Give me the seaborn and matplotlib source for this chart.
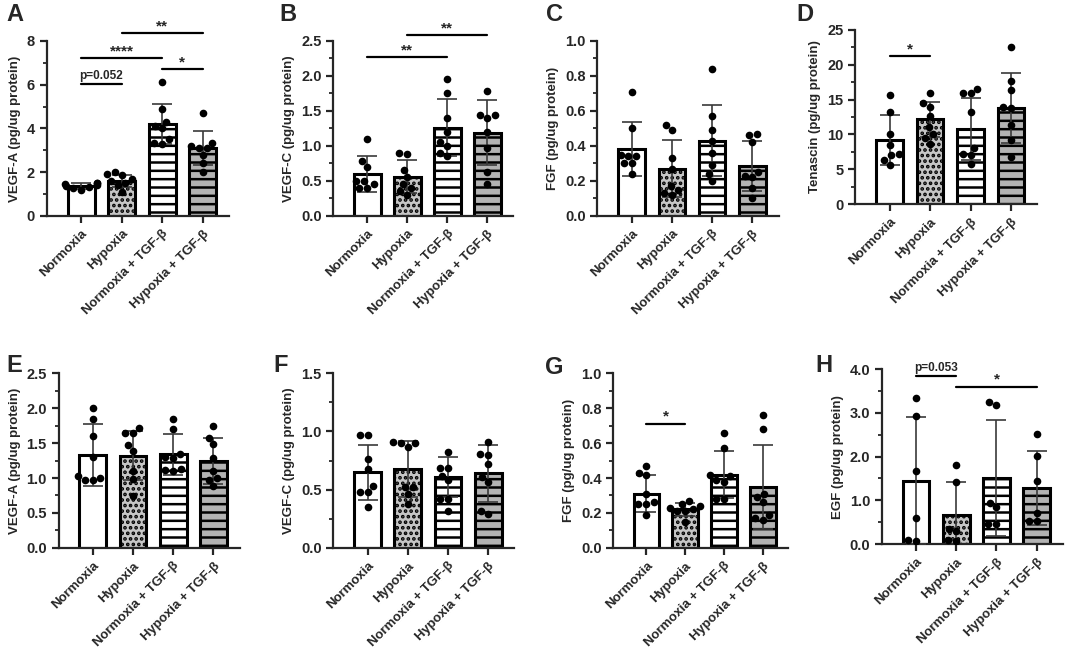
# import libraries
import pandas as pd
import matplotlib
matplotlib.use("Agg")
import matplotlib.pyplot as plt
from matplotlib.ticker import MultipleLocator, FormatStrFormatter
import seaborn as sns


# groups
groups = ["Normoxia", "Hypoxia", "Normoxia + TGF-β", "Hypoxia + TGF-β"]


# panel A - VEGF-A
a_mean = [1.35, 1.60, 4.20, 3.10]
a_sd = [0.13, 0.26, 0.92, 0.76]
a_points = [
    [1.50, 1.45, 1.40, 1.35, 1.30, 1.25, 1.20, 1.48],
    [2.00, 1.90, 1.85, 1.70, 1.60, 1.50, 1.40, 1.10],
    [6.10, 4.90, 4.30, 4.10, 4.00, 3.50, 3.35, 3.30],
    [4.70, 3.35, 3.20, 3.10, 3.10, 2.80, 2.40, 2.00],
]
a_sig = [(0, 1, 6.02, "p=0.052"), (0, 2, 7.2, "****"), (2, 3, 6.7, "*"), (1, 3, 8.35, "**")]

# panel B - VEGF-C
b_mean = [0.60, 0.56, 1.26, 1.19]
b_sd = [0.26, 0.24, 0.41, 0.47]
b_points = [
    [1.10, 0.78, 0.70, 0.50, 0.50, 0.40, 0.40, 0.45],
    [0.90, 0.88, 0.65, 0.55, 0.45, 0.40, 0.35, 0.30],
    [1.95, 1.75, 1.40, 1.20, 1.05, 1.00, 0.90, 0.85],
    [1.78, 1.44, 1.44, 1.40, 1.20, 0.97, 0.62, 0.45],
]
b_sig = [(0, 2, 2.27, "**"), (1, 3, 2.58, "**")]

# panel C - FGF
c_mean = [0.38, 0.27, 0.43, 0.285]
c_sd = [0.155, 0.165, 0.205, 0.145]
c_points = [
    [0.71, 0.50, 0.35, 0.34, 0.34, 0.30, 0.30, 0.24],
    [0.52, 0.49, 0.33, 0.27, 0.17, 0.15, 0.13, 0.12],
    [0.84, 0.57, 0.49, 0.43, 0.36, 0.29, 0.24, 0.20],
    [0.47, 0.46, 0.42, 0.25, 0.23, 0.22, 0.16, 0.10],
]
c_sig = []

# panel D - Tenascin
d_mean = [9.2, 12.2, 10.8, 13.8]
d_sd = [3.6, 2.5, 4.4, 5.0]
d_points = [
    [15.6, 13.2, 10.0, 8.5, 7.2, 7.0, 6.4, 5.6],
    [15.9, 14.5, 13.9, 12.7, 11.0, 10.0, 9.5, 8.6],
    [16.5, 16.0, 15.9, 13.2, 8.0, 7.2, 7.0, 5.8],
    [22.6, 17.6, 16.4, 14.0, 13.8, 11.4, 9.2, 6.8],
]
d_sig = [(0, 1, 21.2, "*")]

# panel E - VEGF-A
e_mean = [1.33, 1.32, 1.34, 1.24]
e_sd = [0.44, 0.35, 0.29, 0.33]
e_points = [
    [2.00, 1.85, 1.60, 1.30, 1.03, 1.00, 0.97, 0.97],
    [1.71, 1.65, 1.64, 1.47, 1.38, 1.10, 0.98, 0.74],
    [1.84, 1.70, 1.34, 1.30, 1.28, 1.13, 1.12, 1.10],
    [1.75, 1.57, 1.48, 1.28, 1.10, 1.00, 0.97, 0.88],
]
e_sig = []

# panel F - VEGF-C
f_mean = [0.65, 0.68, 0.61, 0.64]
f_sd = [0.235, 0.24, 0.17, 0.245]
f_points = [
    [0.97, 0.97, 0.76, 0.68, 0.53, 0.48, 0.48, 0.35],
    [0.91, 0.90, 0.90, 0.87, 0.52, 0.52, 0.46, 0.38],
    [0.82, 0.69, 0.69, 0.62, 0.58, 0.42, 0.42, 0.32],
    [0.91, 0.81, 0.80, 0.72, 0.61, 0.57, 0.32, 0.29],
]
f_sig = []

# panel G - FGF
g_mean = [0.31, 0.22, 0.42, 0.35]
g_sd = [0.105, 0.035, 0.135, 0.24]
g_points = [
    [0.47, 0.43, 0.42, 0.31, 0.26, 0.25, 0.25, 0.19],
    [0.27, 0.25, 0.24, 0.23, 0.22, 0.21, 0.21, 0.15],
    [0.66, 0.57, 0.42, 0.41, 0.39, 0.38, 0.28, 0.28],
    [0.76, 0.68, 0.31, 0.29, 0.26, 0.19, 0.17, 0.16],
]
g_sig = [(0, 1, 0.71, "*")]

# panel H - EGF
h_mean = [1.45, 0.67, 1.51, 1.29]
h_sd = [1.45, 0.75, 1.33, 0.85]
h_points = [
    [3.35, 2.93, 1.67, 0.60, 0.10, 0.08],
    [1.81, 1.42, 0.35, 0.30, 0.10, 0.07],
    [3.24, 3.18, 0.95, 0.85, 0.45, 0.45],
    [2.51, 2.01, 1.45, 0.72, 0.52, 0.52],
]
h_sig = [(0, 1, 3.84, "p=0.053"), (1, 3, 3.6, "*")]


# bar styles
fills = ["white", "#c6c6c6", "white", "#b3b3b3"]
hatches = [None, "...", "--", "--"]


sns.set_style("ticks")
plt.rcParams["font.family"] = ["Liberation Sans", "DejaVu Sans"]
plt.rcParams["font.weight"] = "bold"
plt.rcParams["hatch.linewidth"] = 1.8

fig = plt.figure(figsize=(10.65, 6.5), dpi=100)


def draw_panel(rect, letter, letter_pos, mean, sd, points, sig,
               ylabel, ymax, major, minor, fmt):
    ax = fig.add_axes(rect)

    sns.barplot(
        x=groups, y=mean, hue=groups, palette=fills, order=groups,
        hue_order=groups, width=0.66, edgecolor="black", linewidth=2.2,
        errorbar=None, legend=False, ax=ax, zorder=1
    )
    for patch, h in zip(ax.patches, hatches):
        if h:
            patch.set_hatch(h)

    ax.errorbar(
        x=range(len(groups)), y=mean, yerr=sd, fmt="none",
        ecolor="#3a3a3a", elinewidth=1.2, capsize=7, capthick=1.2, zorder=3
    )

    rows = []
    for g, vals in zip(groups, points):
        for v in vals:
            rows.append({"group": g, "value": v})
    df = pd.DataFrame(rows)
    sns.swarmplot(
        data=df, x="group", y="value", order=groups, color="black",
        size=5.5, ax=ax, zorder=4
    )

    for i, j, y, label in sig:
        ax.plot([i, j], [y, y], color="black", lw=1.6, clip_on=False)
        small = label.startswith("p")
        ax.text((i + j) / 2, y + ymax * (0.015 if small else 0.0),
                label, ha="center", va="bottom",
                fontsize=8.5 if small else 11, fontweight="bold")

    ax.set_ylim(0, ymax)
    ax.set_xlim(-0.85, 3.65)
    ax.yaxis.set_major_locator(MultipleLocator(major))
    ax.yaxis.set_minor_locator(MultipleLocator(minor))
    ax.yaxis.set_major_formatter(FormatStrFormatter(fmt))
    ax.set_ylabel(ylabel, fontsize=9.5, fontweight="bold")
    ax.set_xlabel("")
    ax.set_xticks(range(len(groups)))
    ax.set_xticklabels(groups, rotation=45, ha="right",
                       rotation_mode="anchor", fontsize=9.5, fontweight="bold")
    for t in ax.get_yticklabels():
        t.set_fontsize(10.5)
        t.set_fontweight("bold")

    sns.despine(ax=ax)
    for s in ["left", "bottom"]:
        ax.spines[s].set_linewidth(1.6)
    ax.tick_params(axis="both", which="major", width=1.6, length=5)
    ax.tick_params(axis="y", which="minor", width=1.3, length=3)

    fig.text(letter_pos[0], letter_pos[1], letter, fontsize=17,
             fontweight="bold", ha="left", va="top")
    return ax


# top row
draw_panel([0.044, 0.668, 0.171, 0.269], "A", (0.006, 0.995),
           a_mean, a_sd, a_points, a_sig,
           "VEGF-A (pg/ug protein)", 8, 2, 1, "%d")
draw_panel([0.313, 0.668, 0.169, 0.269], "B", (0.262, 0.995),
           b_mean, b_sd, b_points, b_sig,
           "VEGF-C (pg/ug protein)", 2.5, 0.5, 0.25, "%.1f")
draw_panel([0.561, 0.668, 0.170, 0.269], "C", (0.513, 0.995),
           c_mean, c_sd, c_points, c_sig,
           "FGF (pg/ug protein)", 1.0, 0.2, 0.1, "%.1f")
draw_panel([0.803, 0.686, 0.171, 0.268], "D", (0.748, 0.995),
           d_mean, d_sd, d_points, d_sig,
           "Tenascin (pg/ug protein)", 25, 5, 2.5, "%d")

# bottom row
draw_panel([0.055, 0.157, 0.170, 0.269], "E", (0.006, 0.455),
           e_mean, e_sd, e_points, e_sig,
           "VEGF-A (pg/ug protein)", 2.5, 0.5, 0.25, "%.1f")
draw_panel([0.313, 0.157, 0.170, 0.269], "F", (0.257, 0.455),
           f_mean, f_sd, f_points, f_sig,
           "VEGF-C (pg/ug protein)", 1.5, 0.5, 0.25, "%.1f")
draw_panel([0.576, 0.157, 0.164, 0.269], "G", (0.512, 0.452),
           g_mean, g_sd, g_points, g_sig,
           "FGF (pg/ug protein)", 1.0, 0.2, 0.1, "%.1f")
draw_panel([0.828, 0.163, 0.170, 0.269], "H", (0.766, 0.455),
           h_mean, h_sd, h_points, h_sig,
           "EGF (pg/ug protein)", 4.0, 1.0, 0.5, "%.1f")

plt.savefig("out.png", dpi=100)
